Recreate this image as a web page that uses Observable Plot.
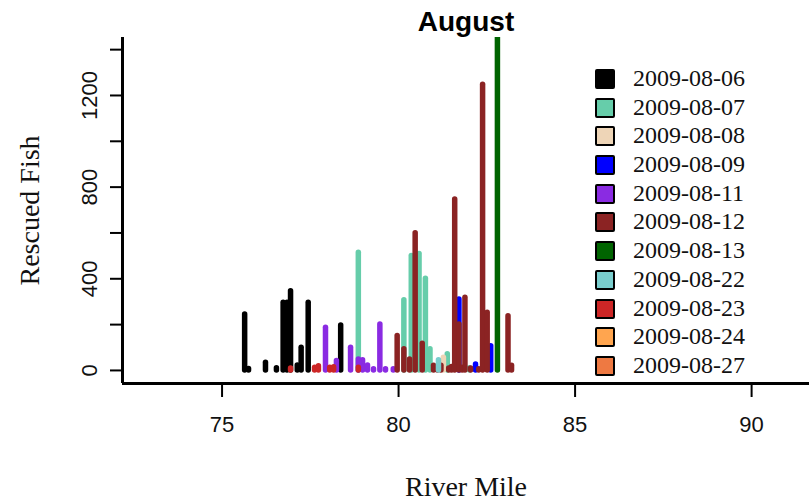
<!DOCTYPE html>
<html>
<head>
<meta charset="utf-8">
<script src="https://cdn.jsdelivr.net/npm/d3@7"></script>
<script src="https://cdn.jsdelivr.net/npm/@observablehq/plot@0.6"></script>
<style>
  html, body { margin: 0; padding: 0; background: #fff; }
  #wrap { position: relative; width: 809px; height: 503px; overflow: hidden; }
  #legend { position: absolute; left: 595px; top: 64px; font-family: "Liberation Serif", serif; font-size: 24px; color: #111; }
  .row { position: relative; height: 28.7px; }
  .sw { position: absolute; left: 0; top: 5px; width: 16px; height: 16px; border: 2px solid #000; border-radius: 2px; }
  .lab { position: absolute; left: 38px; top: 0; line-height: 28.7px; white-space: nowrap; }
</style>
</head>
<body>
<div id="wrap"><div id="legend"></div></div>
<script>
// ---- data ----
const dates = ["2009-08-06","2009-08-07","2009-08-08","2009-08-09","2009-08-11","2009-08-12","2009-08-13","2009-08-22","2009-08-23","2009-08-24","2009-08-27"];
const colors = ["#000000","#66CDAA","#EED5B7","#0000FF","#8A2BE2","#8B2323","#006400","#79CDCD","#CD2626","#FFA54F","#EE7942"];

const mile0806 = [75.64, 75.75, 76.23, 76.54, 76.73, 76.84, 76.94, 77.13, 77.24, 77.44, 78.36];
const fish0806 = [244, 6, 34, 10, 295, 295, 346, 22, 99, 295, 196];

const mile0807 = [78.86, 80.15, 80.36, 80.58, 80.76, 80.89, 81.38, 82.01];
const fish0807 = [514, 306, 499, 508, 400, 92, 71, 10];

const mile0808 = [81.27];
const fish0808 = [55];

const mile0809 = [81.71, 82.18, 82.61];
const fish0809 = [310, 26, 106];

const mile0811 = [77.93, 78.24, 78.64, 78.86, 78.98, 79.12, 79.29, 79.47, 79.63, 79.85];
const fish0811 = [186, 41, 99, 48, 45, 22, 5, 201, 5, 5];

const mile0812 = [79.96, 80.15, 80.31, 80.47, 80.67, 80.99, 81.10, 81.20, 81.42, 81.50, 81.59, 81.71, 81.80, 81.88, 82.04, 82.27, 82.38, 82.51, 83.10, 83.20];
const fish0812 = [150, 92, 48, 599, 117, 20, 8, 20, 8, 15, 746, 201, 12, 317, 8, 5, 1247, 252, 237, 21];

const mile0813 = [82.80];
const fish0813 = [1500];

const mile0822 = [81.13];
const fish0822 = [45];

const mile0823 = [76.94, 77.62, 77.73, 78.05, 78.16, 78.86];
const fish0823 = [8, 12, 18, 12, 14, 12];

const mile0824 = [];
const fish0824 = [];
const mile0827 = [];
const fish0827 = [];

const xTicks = [75, 80, 85, 90];
const yTicks = [0, 200, 400, 600, 800, 1000, 1200, 1400];
const yLabels = [0, 400, 800, 1200];
const xDomain = [72.18, 91.64];
const yDomain = [-57, 1453];

// ---- build table ----
const series = [
  [mile0806, fish0806], [mile0807, fish0807], [mile0808, fish0808], [mile0809, fish0809],
  [mile0811, fish0811], [mile0812, fish0812], [mile0813, fish0813], [mile0822, fish0822],
  [mile0823, fish0823], [mile0824, fish0824], [mile0827, fish0827]
];
const rows = [];
series.forEach(([m, f], k) => m.forEach((v, i) => rows.push({date: dates[k], mile: v, fish: f[i]})));

const serif = "Liberation Serif, Times New Roman, serif";
const sans = "Liberation Sans, Arial, sans-serif";

const chart = Plot.plot({
  width: 809,
  height: 503,
  marginLeft: 122,
  marginRight: 0,
  marginTop: 37,
  marginBottom: 120,
  style: {background: "#fff", fontFamily: sans, color: "#111"},
  x: {domain: xDomain},
  y: {domain: yDomain},
  color: {domain: dates, range: colors},
  marks: [
    Plot.ruleX(rows, {x: "mile", y1: 0, y2: "fish", stroke: "date", strokeWidth: 5.5, strokeLinecap: "round", clip: true}),
    Plot.ruleX([xDomain[0]], {stroke: "#000", strokeWidth: 3}),
    Plot.ruleY([yDomain[0]], {stroke: "#000", strokeWidth: 3}),
    Plot.axisX({ticks: xTicks, tickSize: 14, tickPadding: 19, fontSize: 22, fontFamily: sans, label: null, strokeWidth: 2, stroke: "#000"}),
    Plot.axisY({ticks: yTicks, tickSize: 12, tickFormat: () => "", label: null, strokeWidth: 2, stroke: "#000"}),
    Plot.text(yLabels, {y: d => d, text: d => String(d), frameAnchor: "left", dx: -33, rotate: -90, fontSize: 22, fontFamily: sans, textAnchor: "middle", lineAnchor: "middle", fill: "#111"}),
    Plot.text(["August"], {text: d => d, frameAnchor: "top", dy: -15, fontSize: 28, fontWeight: "bold", fontFamily: sans, textAnchor: "middle", lineAnchor: "middle", fill: "#000"}),
    Plot.text(["River Mile"], {text: d => d, frameAnchor: "bottom", dy: 104, fontSize: 28, fontFamily: serif, textAnchor: "middle", lineAnchor: "middle", fill: "#111"}),
    Plot.text(["Rescued Fish"], {text: d => d, frameAnchor: "left", dx: -92, rotate: -90, fontSize: 28, fontFamily: serif, textAnchor: "middle", lineAnchor: "middle", fill: "#111"})
  ]
});
document.getElementById("wrap").prepend(chart);

// ---- legend ----
const legend = document.getElementById("legend");
dates.forEach((d, i) => {
  const row = document.createElement("div");
  row.className = "row";
  const sw = document.createElement("div");
  sw.className = "sw";
  sw.style.background = colors[i];
  const lab = document.createElement("div");
  lab.className = "lab";
  lab.textContent = d;
  row.append(sw, lab);
  legend.append(row);
});
</script>
</body>
</html>
